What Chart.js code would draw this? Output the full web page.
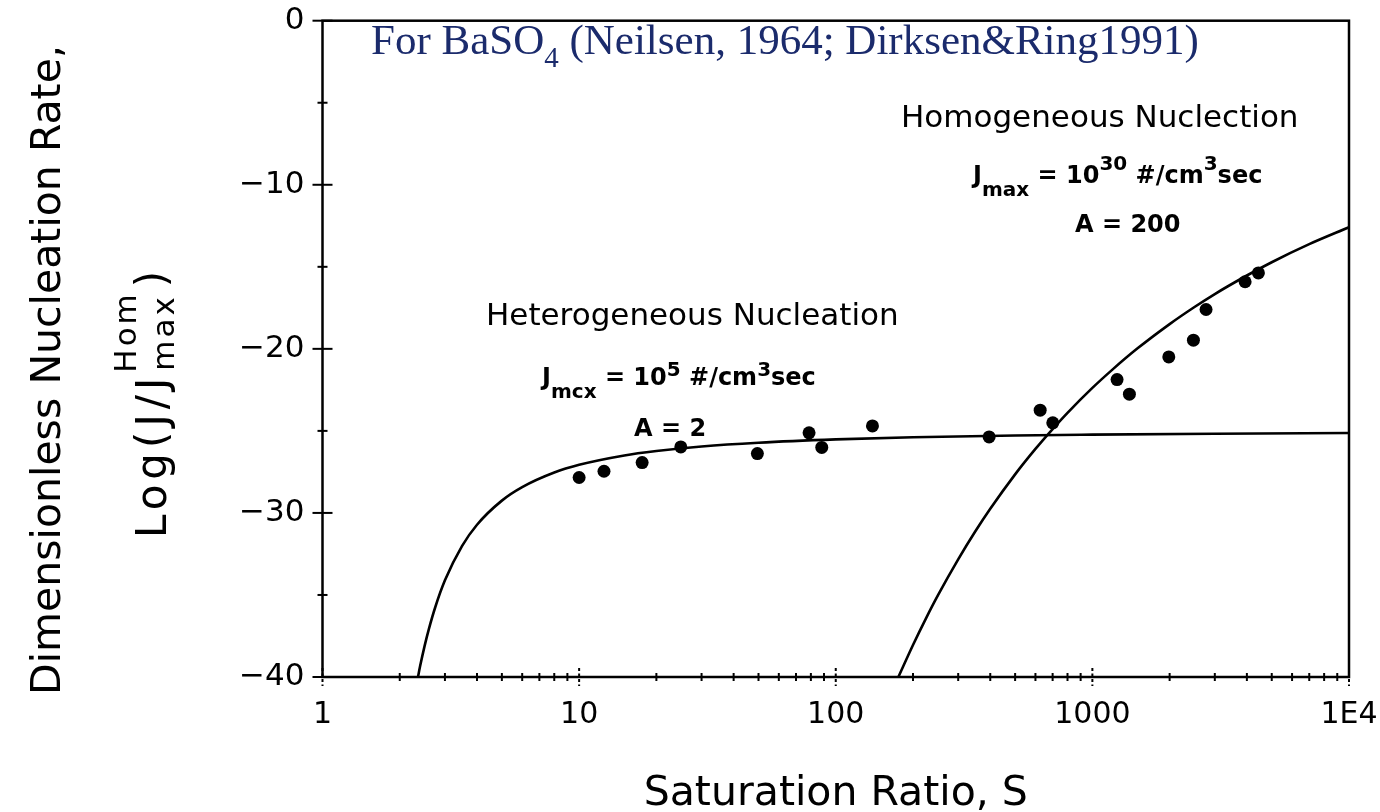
<!DOCTYPE html>
<html>
<head>
<meta charset="utf-8">
<script src="https://cdn.jsdelivr.net/npm/chart.js@4.4.1/dist/chart.umd.min.js"></script>
<style>
  html, body { margin: 0; padding: 0; background: #fff; }
  canvas { display: block; }
</style>
</head>
<body>
<canvas id="chart" width="1380" height="812"></canvas>
<script>
// heterogeneous nucleation curve (Jmax = 1e5, A = 2)
const hetS    = [2.355, 2.4, 2.5, 2.6, 2.75, 3, 3.5, 4, 5, 6, 8, 10, 15, 20, 30, 50, 100, 200, 500, 1000, 3000, 10000];
const hetLogJ = [-40, -39.35, -38.1, -37.05, -35.75, -34.11, -32.01, -30.72, -29.25, -28.43, -27.54, -27.07,
                 -26.5, -26.23, -25.95, -25.72, -25.52, -25.39, -25.28, -25.23, -25.17, -25.13];

// homogeneous nucleation curve (Jmax = 1e30, A = 200)
const homS    = [175.4, 200, 225, 250, 300, 350, 400, 500, 600, 700, 800, 1000, 1200, 1500, 2000, 2500, 3000, 4000, 5000, 7000, 10000];
const homLogJ = [-40, -38.05, -36.41, -35.03, -32.83, -31.12, -29.75, -27.65, -26.1, -24.89, -23.9, -22.38,
                 -21.25, -19.97, -18.49, -17.45, -16.66, -15.53, -14.72, -13.62, -12.59];

// measured BaSO4 rates
const expS    = [10, 12.5, 17.6, 24.9, 49.5, 78.7, 88.2, 139, 396, 626, 701, 1248, 1394, 1985, 2476, 2773, 3937, 4436];
const expLogJ = [-27.84, -27.46, -26.93, -25.98, -26.38, -25.12, -26.01, -24.7, -25.37, -23.74, -24.51,
                 -21.87, -22.76, -20.49, -19.47, -17.6, -15.91, -15.37];

// axes
const xMajor = [1, 10, 100, 1000, 10000];
const xMajorLabels = ['1', '10', '100', '1000', '1E4'];
const xMinorSteps = [2, 3, 4, 5, 6, 7, 8, 9];
const yMajor = [0, -10, -20, -30, -40];
const yMajorLabels = ['0', '\u221210', '\u221220', '\u221230', '\u221240'];
const yMinor = [-5, -15, -25, -35];

const FONT = '"DejaVu Sans", sans-serif';
const SERIF = '"Liberation Serif", "Times New Roman", serif';

const xTicks = [];
xMajor.forEach((d, i) => {
  xTicks.push(d);
  if (i < xMajor.length - 1) xMinorSteps.forEach(m => xTicks.push(d * m));
});
const yTicks = yMajor.concat(yMinor).sort((a, b) => a - b);

const toXY = (xs, ys) => xs.map((v, i) => ({ x: v, y: ys[i] }));

// write a run of text pieces left to right, each with its own size and shift
function drawRuns(ctx, x, y, runs, weight) {
  let cx = x;
  runs.forEach(r => {
    ctx.font = `${weight} ${r.size}px ${FONT}`;
    ctx.fillText(r.text, cx, y + (r.dy || 0));
    cx += ctx.measureText(r.text).width;
  });
}

// keep tick labels from pushing the plot area in
function noScalePadding(s) {
  s.paddingTop = 0;
  s.paddingBottom = 0;
  s.paddingLeft = 0;
  s.paddingRight = 0;
}

// box round the plot and ticks that cross the axis lines
const frameTicks = {
  id: 'frameTicks',
  afterDraw(chart) {
    const { ctx, chartArea: a, scales: { x, y } } = chart;
    ctx.save();
    ctx.strokeStyle = '#000';
    ctx.lineWidth = 2.5;
    ctx.strokeRect(a.left, a.top, a.right - a.left, a.bottom - a.top);
    ctx.lineWidth = 2;
    x.ticks.forEach(t => {
      const px = x.getPixelForValue(t.value);
      ctx.beginPath();
      if (xMajor.includes(t.value)) {
        ctx.setLineDash([3, 2.5]);
        ctx.moveTo(px, a.bottom - 9);
        ctx.lineTo(px, a.bottom + 9);
      } else {
        ctx.setLineDash([]);
        ctx.moveTo(px, a.bottom - 4);
        ctx.lineTo(px, a.bottom + 4);
      }
      ctx.stroke();
    });
    ctx.setLineDash([]);
    y.ticks.forEach(t => {
      const py = y.getPixelForValue(t.value);
      const len = yMajor.includes(t.value) ? 10 : 5;
      ctx.beginPath();
      ctx.moveTo(a.left - len, py);
      ctx.lineTo(a.left + len, py);
      ctx.stroke();
    });
    ctx.restore();
  }
};

// axis titles and the notes inside the plot
const notes = {
  id: 'notes',
  afterDraw(chart) {
    const { ctx, chartArea: a } = chart;
    ctx.save();
    ctx.fillStyle = '#000';
    ctx.textBaseline = 'alphabetic';

    // x title
    ctx.textAlign = 'center';
    ctx.font = `41px ${FONT}`;
    ctx.fillText('Saturation Ratio, S', (a.left + a.right) / 2, 805);

    // y title, two lines
    ctx.save();
    ctx.translate(60, 370);
    ctx.rotate(-Math.PI / 2);
    ctx.fillText('Dimensionless Nucleation Rate,', 0, 0);
    ctx.restore();

    ctx.save();
    ctx.translate(166, 538);
    ctx.rotate(-Math.PI / 2);
    ctx.textAlign = 'left';
    ctx.letterSpacing = '5px';
    ctx.font = `42px ${FONT}`;
    ctx.fillText('Log(J/J', 0, 0);
    let w = ctx.measureText('Log(J/J').width;
    ctx.letterSpacing = '3px';
    ctx.font = `31px ${FONT}`;
    ctx.fillText('Hom', w, -30);
    ctx.fillText('max', w + 2, 8);
    w += Math.max(ctx.measureText('Hom').width, ctx.measureText('max').width) + 4;
    ctx.font = `42px ${FONT}`;
    ctx.fillText(')', w, 0);
    ctx.restore();

    ctx.textAlign = 'left';

    // source line
    ctx.fillStyle = '#1b2b6c';
    ctx.font = `43px ${SERIF}`;
    ctx.fillText('For BaSO', 371, 54);
    let bx = 371 + ctx.measureText('For BaSO').width;
    ctx.font = `29px ${SERIF}`;
    ctx.fillText('4', bx, 67);
    bx += ctx.measureText('4').width;
    ctx.font = `43px ${SERIF}`;
    ctx.fillText(' (Neilsen, 1964; Dirksen&Ring1991)', bx, 54);

    ctx.fillStyle = '#000';
    ctx.font = `31px ${FONT}`;
    ctx.fillText('Homogeneous Nuclection', 901, 127);
    ctx.fillText('Heterogeneous Nucleation', 486, 325);

    drawRuns(ctx, 973, 183, [
      { text: 'J', size: 24 },
      { text: 'max', size: 20, dy: 13 },
      { text: ' = 10', size: 24 },
      { text: '30', size: 20, dy: -13 },
      { text: ' #/cm', size: 24 },
      { text: '3', size: 20, dy: -13 },
      { text: 'sec', size: 24 }
    ], 'bold');
    ctx.font = `bold 24px ${FONT}`;
    ctx.fillText('A = 200', 1075, 232);

    drawRuns(ctx, 542, 385, [
      { text: 'J', size: 24 },
      { text: 'mcx', size: 20, dy: 13 },
      { text: ' = 10', size: 24 },
      { text: '5', size: 20, dy: -9 },
      { text: ' #/cm', size: 24 },
      { text: '3', size: 20, dy: -9 },
      { text: 'sec', size: 24 }
    ], 'bold');
    ctx.font = `bold 24px ${FONT}`;
    ctx.fillText('A = 2', 634, 436);

    ctx.restore();
  }
};

Chart.defaults.font.family = FONT;
Chart.defaults.color = '#000';

new Chart(document.getElementById('chart'), {
  type: 'scatter',
  data: {
    datasets: [
      {
        label: 'Heterogeneous',
        data: toXY(hetS, hetLogJ),
        showLine: true,
        borderColor: '#000',
        borderWidth: 2.6,
        pointRadius: 0,
        cubicInterpolationMode: 'monotone'
      },
      {
        label: 'Homogeneous',
        data: toXY(homS, homLogJ),
        showLine: true,
        borderColor: '#000',
        borderWidth: 2.6,
        pointRadius: 0,
        cubicInterpolationMode: 'monotone'
      },
      {
        label: 'BaSO4 data',
        data: toXY(expS, expLogJ),
        showLine: false,
        pointRadius: 6.5,
        pointBackgroundColor: '#000',
        pointBorderColor: '#000',
        pointBorderWidth: 0
      }
    ]
  },
  options: {
    responsive: false,
    animation: false,
    devicePixelRatio: 1,
    layout: { padding: { top: 20.7, right: 31, left: 0, bottom: 0 } },
    plugins: {
      legend: { display: false },
      tooltip: { enabled: false }
    },
    scales: {
      x: {
        type: 'logarithmic',
        min: 1,
        max: 10000,
        grid: { display: false, drawTicks: false },
        border: { display: false },
        afterBuildTicks: s => { s.ticks = xTicks.map(v => ({ value: v })); },
        afterFit: s => { s.height = 135; noScalePadding(s); },
        ticks: {
          autoSkip: false,
          maxRotation: 0,
          padding: 20,
          font: { size: 30 },
          callback: v => {
            const i = xMajor.indexOf(v);
            return i >= 0 ? xMajorLabels[i] : '';
          }
        }
      },
      y: {
        min: -40,
        max: 0,
        grid: { display: false, drawTicks: false },
        border: { display: false },
        afterBuildTicks: s => { s.ticks = yTicks.map(v => ({ value: v })); },
        afterFit: s => { s.width = 322.5; noScalePadding(s); },
        ticks: {
          autoSkip: false,
          padding: 18,
          font: { size: 31 },
          callback: v => {
            const i = yMajor.indexOf(v);
            return i >= 0 ? yMajorLabels[i] : '';
          }
        }
      }
    }
  },
  plugins: [frameTicks, notes]
});
</script>
</body>
</html>
